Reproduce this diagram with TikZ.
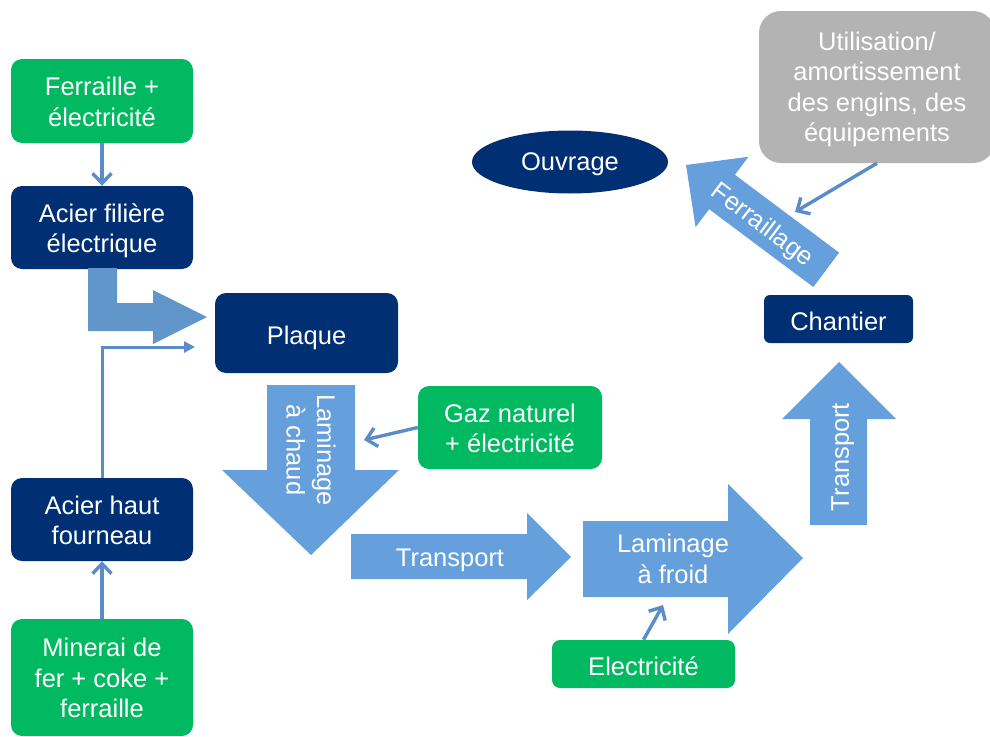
\documentclass[tikz,border=0pt]{standalone}
\usepackage{fontspec}
\setmainfont{Liberation Sans}
\usetikzlibrary{arrows.meta,shapes.geometric}
\definecolor{navy}{RGB}{0,48,115}
\definecolor{vert}{RGB}{0,185,96}
\definecolor{bleuA}{RGB}{102,160,220}
\definecolor{bleuB}{RGB}{96,150,202}
\definecolor{bleuL}{RGB}{90,140,200}
\definecolor{gris}{RGB}{179,179,179}
\newcommand\bs{\rule[-0.212em]{0pt}{1.117em}}
\newcommand\ts{\rule[-0.212em]{0pt}{\dimexpr1.117em+6pt\relax}}
\newcommand\tm{\rule[-0.212em]{0pt}{\dimexpr1.117em+2pt\relax}}
\tikzset{
  pptext/.style={text=white, align=center, inner sep=0pt,
    font=\fontsize{25.5pt}{30.5pt}\selectfont},
  box/.style={pptext, rounded corners=11pt},
  greenbox/.style={box, fill=vert},
  navybox/.style={box, fill=navy},
  arrowtext/.style={pptext},
  thinarrow/.style={draw=bleuL, line width=3.4pt, -{Straight Barb[length=10pt,width=19pt]}},
}
\begin{document}
\begin{tikzpicture}[x=1pt,y=-1pt]
\useasboundingbox (0,0) rectangle (990,736);

% boxes
\node[greenbox, minimum width=182pt, minimum height=84pt] (ferr) at (102,101) {\tm Ferraille +\\électricité\bs};
\node[navybox, minimum width=182pt, minimum height=83pt] (acfil) at (102,227.5) {\tm Acier filière\\électrique\bs};
\node[navybox, minimum width=182pt, minimum height=83pt] (achf) at (102,519.5) {\tm Acier haut\\fourneau\bs};
\node[greenbox, minimum width=182pt, minimum height=117pt] (mine) at (102,677.5) {\tm Minerai de\\fer + coke +\\ferraille\bs};
\node[navybox, minimum width=183pt, minimum height=80pt] (plaque) at (306.5,333) {\ts Plaque\bs};
\node[greenbox, minimum width=184pt, minimum height=83pt] (gaz) at (510,427.5) {\tm Gaz naturel\\+ électricité\bs};
\node[greenbox, rounded corners=8pt, minimum width=183pt, minimum height=48pt] (elec) at (643.5,664) {\ts Electricité\bs};
\node[navybox, rounded corners=6pt, minimum width=149pt, minimum height=48pt] (chantier) at (838.5,319) {\ts Chantier\bs};
\node[pptext, ellipse, fill=navy, minimum width=196pt, minimum height=63pt] (ouvrage) at (570,162) {\bs Ouvrage\bs};
\node[box, fill=gris, rounded corners=22pt, minimum width=236pt, minimum height=152pt] (util) at (877,87) {\bs Utilisation/\\amortissement\\des engins, des\\équipements\bs};

% bent thick arrow
\fill[bleuB] (88,268) -- (117,268) -- (117,303) -- (153,303) -- (153,290) -- (207,317)
  -- (153,344) -- (153,331) -- (88,331) -- cycle;

% Laminage a chaud
\fill[bleuA] (267,385) -- (355,385) -- (355,470) -- (399,470) -- (311,555) -- (222,470) -- (267,470) -- cycle;
\node[arrowtext, rotate=-90] (lamchaud) at (311,450) {Laminage\\à chaud};
\coordinate (lamc-in) at (364,440);

% Transport horizontal
\fill[bleuA] (351,534) -- (527,534) -- (527,513) -- (571,557) -- (527,600) -- (527,579) -- (351,579) -- cycle;
\node[arrowtext] (transp1) at (450,558) {\bs Transport\bs};

% Laminage a froid
\fill[bleuA] (583,521) -- (728,521) -- (728,484) -- (803,558) -- (728,634) -- (728,597) -- (583,597) -- cycle;
\node[arrowtext] (lamfroid) at (673,559) {Laminage\\à froid};
\coordinate (lamf-in) at (663,605);

% Transport vertical
\fill[bleuA] (810,525) -- (867,525) -- (867,419) -- (896,419) -- (839,362) -- (782,419) -- (810,419) -- cycle;
\node[arrowtext, rotate=90] (transp2) at (840,457) {\bs Transport\bs};

% Ferraillage diagonal
\fill[bleuA] (686,165) -- (748.4,156.8) -- (734.9,174.8) -- (839.1,252.6) -- (813.3,287.0)
  -- (709.1,209.2) -- (695.6,227.2) -- cycle;
\node[arrowtext, rotate=-37] (ferraillage) at (763,224) {\bs Ferraillage\bs};
\coordinate (ferr-in) at (795,212);

% thin connectors
\draw[thinarrow] (ferr.south) -- (acfil.north);
\draw[thinarrow] (mine.north) -- (achf.south);
\coordinate (plaque-in) at (195,347);
\draw[draw=bleuL, line width=3pt, -{Triangle[length=11pt,width=11pt]}] (achf.north) |- (plaque-in);
\draw[thinarrow] (gaz.west) -- (lamc-in);
\draw[thinarrow] (elec.north) -- (lamf-in);
\draw[thinarrow] (util.south) -- (ferr-in);
\end{tikzpicture}
\end{document}
